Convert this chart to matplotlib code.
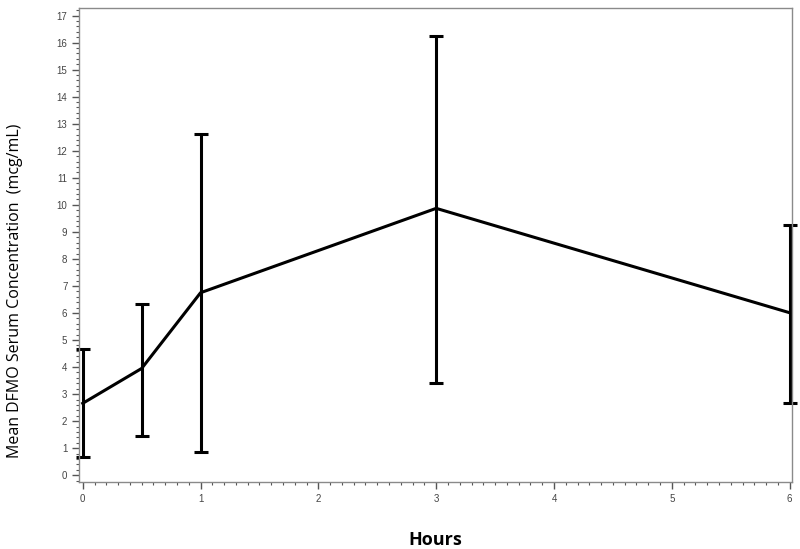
import numpy as np
import matplotlib.pyplot as plt
from matplotlib.ticker import MultipleLocator

# data
hours = [0, 0.5, 1, 3, 6]
mean_conc = [2.66, 3.95, 6.75, 9.87, 6.01]
lower = [0.66, 1.44, 0.85, 3.43, 2.69]
upper = [4.66, 6.35, 12.62, 16.24, 9.27]

x = np.array(hours)
m = np.array(mean_conc)
yerr = [m - np.array(lower), np.array(upper) - m]

fig = plt.figure(figsize=(8, 5.49), dpi=100)
ax = fig.add_axes([0.099, 0.122, 0.891, 0.863])

ax.errorbar(x, m, yerr=yerr, color='black', lw=2.2, elinewidth=2.2,
            capsize=5, capthick=2.2, clip_on=False)

ax.set_xlim(-0.03, 6.02)
ax.set_ylim(-0.25, 17.27)
ax.xaxis.set_major_locator(MultipleLocator(1))
ax.xaxis.set_minor_locator(MultipleLocator(0.1))
ax.yaxis.set_major_locator(MultipleLocator(1))
ax.yaxis.set_minor_locator(MultipleLocator(0.2))

for s in ax.spines.values():
    s.set_color('#8a8a8a')
    s.set_linewidth(1.0)

ax.tick_params(which='major', length=5, width=1, color='#555555',
               labelsize=7, labelcolor='#444444')
ax.tick_params(which='minor', length=2.5, width=0.8, color='#555555')
for lab in ax.get_xticklabels() + ax.get_yticklabels():
    lab.set_family('Liberation Sans')

ax.set_ylabel('Mean DFMO Serum Concentration  (mcg/mL)', family='Open Sans',
              fontsize=11.5, va='center')
ax.yaxis.set_label_coords(-0.09, 0.403)
ax.set_xlabel('Hours', family='Open Sans', fontweight='bold', fontsize=13,
              va='center')
ax.xaxis.set_label_coords(0.5, -0.122)

fig.savefig('out.png', dpi=100)
